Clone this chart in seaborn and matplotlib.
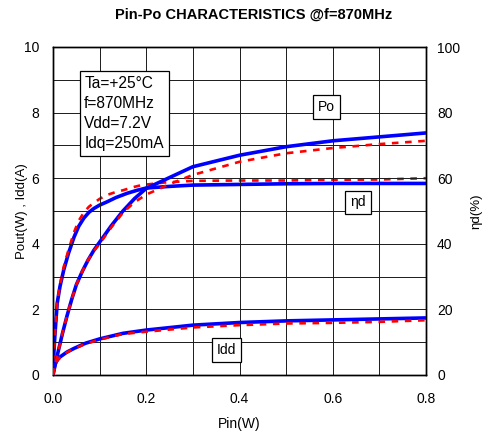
import matplotlib
matplotlib.use("Agg")
import matplotlib.pyplot as plt
import seaborn as sns
import numpy as np

# ---- data ----
po_blue_x = [0, 0.005, 0.01, 0.02, 0.03, 0.04, 0.05, 0.0625, 0.075, 0.0875, 0.1, 0.125, 0.15, 0.175, 0.2, 0.3, 0.4, 0.5, 0.6, 0.7, 0.8]
po_blue_y = [0, 0.33, 0.65, 1.25, 1.8, 2.3, 2.75, 3.15, 3.5, 3.8, 4.05, 4.55, 5.0, 5.38, 5.69, 6.35, 6.7, 6.96, 7.14, 7.26, 7.38]
po_red_x = [0, 0.005, 0.01, 0.02, 0.03, 0.04, 0.05, 0.0625, 0.075, 0.0875, 0.1, 0.125, 0.15, 0.175, 0.2, 0.25, 0.3, 0.4, 0.5, 0.6, 0.7, 0.8]
po_red_y = [0, 0.33, 0.65, 1.25, 1.8, 2.3, 2.75, 3.15, 3.5, 3.78, 4.0, 4.5, 4.95, 5.27, 5.5, 5.82, 6.1, 6.5, 6.76, 6.92, 7.04, 7.14]

eta_blue_x = [0, 0.002, 0.004, 0.009, 0.015, 0.023, 0.033, 0.045, 0.055, 0.066, 0.077, 0.088, 0.1, 0.116, 0.135, 0.159, 0.18, 0.2, 0.25, 0.3, 0.4, 0.5, 0.6, 0.7, 0.8]
eta_blue_y = [0, 7, 12, 21.9, 27, 32, 37, 42, 45.3, 47.8, 49.6, 50.8, 51.8, 52.8, 54.1, 55.4, 56.3, 57.0, 57.5, 57.9, 58.1, 58.3, 58.4, 58.4, 58.4]
eta_red_x = [0, 0.002, 0.004, 0.009, 0.015, 0.023, 0.033, 0.045, 0.055, 0.066, 0.077, 0.088, 0.1, 0.116, 0.135, 0.152, 0.17, 0.19, 0.24, 0.3, 0.4, 0.5, 0.6, 0.7, 0.8]
eta_red_y = [0, 7, 12, 22, 27.5, 33, 38, 43.5, 47, 49.5, 51.3, 52.5, 53.7, 54.9, 55.8, 56.4, 57.2, 57.9, 58.7, 59.2, 59.3, 59.3, 59.5, 59.6, 60.0]

idd_blue_x = [0, 0.002, 0.005, 0.01, 0.016, 0.03, 0.045, 0.07, 0.1, 0.15, 0.2, 0.3, 0.4, 0.5, 0.6, 0.7, 0.8]
idd_blue_y = [0, 0.2, 0.35, 0.47, 0.56, 0.7, 0.81, 0.97, 1.1, 1.27, 1.37, 1.52, 1.6, 1.65, 1.68, 1.71, 1.74]
idd_red_x = [0, 0.002, 0.005, 0.01, 0.016, 0.03, 0.045, 0.07, 0.1, 0.15, 0.2, 0.3, 0.4, 0.5, 0.6, 0.7, 0.8]
idd_red_y = [0, 0.19, 0.33, 0.46, 0.55, 0.69, 0.8, 0.95, 1.08, 1.25, 1.32, 1.45, 1.52, 1.57, 1.59, 1.62, 1.67]

x_ticks = [0.0, 0.2, 0.4, 0.6, 0.8]
x_tick_labels = ["0.0", "0.2", "0.4", "0.6", "0.8"]
left_ticks = [0, 2, 4, 6, 8, 10]
right_ticks = [0, 20, 40, 60, 80, 100]

title = "Pin-Po CHARACTERISTICS @f=870MHz"
info_text = "Ta=+25°C\nf=870MHz\nVdd=7.2V\nIdq=250mA"

# ---- plotting ----
sns.set_style("white")
plt.rcParams['font.family'] = ['Liberation Sans', 'DejaVu Sans']
for k in ['text.color', 'axes.labelcolor', 'xtick.color', 'ytick.color']:
    plt.rcParams[k] = 'black'

W, H = 485, 432
fig = plt.figure(figsize=(W / 100, H / 100), dpi=100)
ax = fig.add_axes([53/W, 1-375/H, (426-53)/W, (375-47)/H])
ax2 = ax.twinx()

blue = "#0000FF"
red = "#FF0000"
blw = 2.6
rlw = 1.9
dash = (2.5, 2.5)

sns.lineplot(x=po_blue_x, y=po_blue_y, ax=ax, color=blue, lw=blw, sort=False, zorder=3)
sns.lineplot(x=idd_blue_x, y=idd_blue_y, ax=ax, color=blue, lw=blw, sort=False, zorder=3)
sns.lineplot(x=po_red_x, y=po_red_y, ax=ax, color=red, lw=rlw, sort=False, zorder=4,
             linestyle=(0, dash))
sns.lineplot(x=idd_red_x, y=idd_red_y, ax=ax, color=red, lw=rlw, sort=False, zorder=4,
             linestyle=(0, dash))
sns.lineplot(x=eta_blue_x, y=eta_blue_y, ax=ax2, color=blue, lw=blw, sort=False, zorder=3)
sns.lineplot(x=eta_red_x, y=eta_red_y, ax=ax2, color=red, lw=rlw, sort=False, zorder=4,
             linestyle=(0, dash))

ax.set_xlim(0, 0.8)
ax.set_ylim(0, 10)
ax2.set_ylim(0, 100)
ax.set_xticks(x_ticks)
ax.set_xticklabels(x_tick_labels)
ax.set_xticks(np.arange(0, 0.81, 0.1), minor=True)
ax.set_yticks(left_ticks)
ax.set_yticks(np.arange(0, 10.1, 1), minor=True)
ax2.set_yticks(right_ticks)

ax.grid(True, which='both', color='#1a1a1a', lw=0.7)
ax2.grid(False)
for a in (ax, ax2):
    for s in a.spines.values():
        s.set_color('black')
        s.set_linewidth(1.0)
ax.tick_params(axis='x', which='both', direction='in', length=0, labelsize=10, pad=12)
ax.tick_params(axis='y', which='both', direction='in', length=0, labelsize=10, pad=10)
ax2.tick_params(axis='y', which='both', direction='in', length=0, labelsize=10, pad=8)

ax.set_xlabel("Pin(W)", fontsize=10, labelpad=8)
ax.set_ylabel("Pout(W) , Idd(A)", fontsize=9.5, labelpad=-3)
ax2.set_ylabel("ηd(%)", fontsize=9.5, labelpad=7)
fig.text(254 / W, 1 - 15 / H, title, fontsize=10.5, fontweight='bold', ha='center', va='center')

ax.set_zorder(ax2.get_zorder() + 1)
ax.patch.set_visible(False)

box = dict(boxstyle='square,pad=0.35', fc='white', ec='black', lw=0.9)
ax.text(0.067, 9.12, info_text, fontsize=11.2, va='top', ha='left', linespacing=1.42,
        bbox=dict(boxstyle='square,pad=0.3', fc='white', ec='black', lw=0.9), zorder=6)
ax.text(0.587, 8.17, "Po", fontsize=10, ha='center', va='center', bbox=box, zorder=6)
ax.text(0.654, 5.26, "ηd", fontsize=10, ha='center', va='center', bbox=box, zorder=6)
ax.text(0.373, 0.77, "Idd", fontsize=10, ha='center', va='center', bbox=box, zorder=6)

fig.savefig("out.png", dpi=100)
